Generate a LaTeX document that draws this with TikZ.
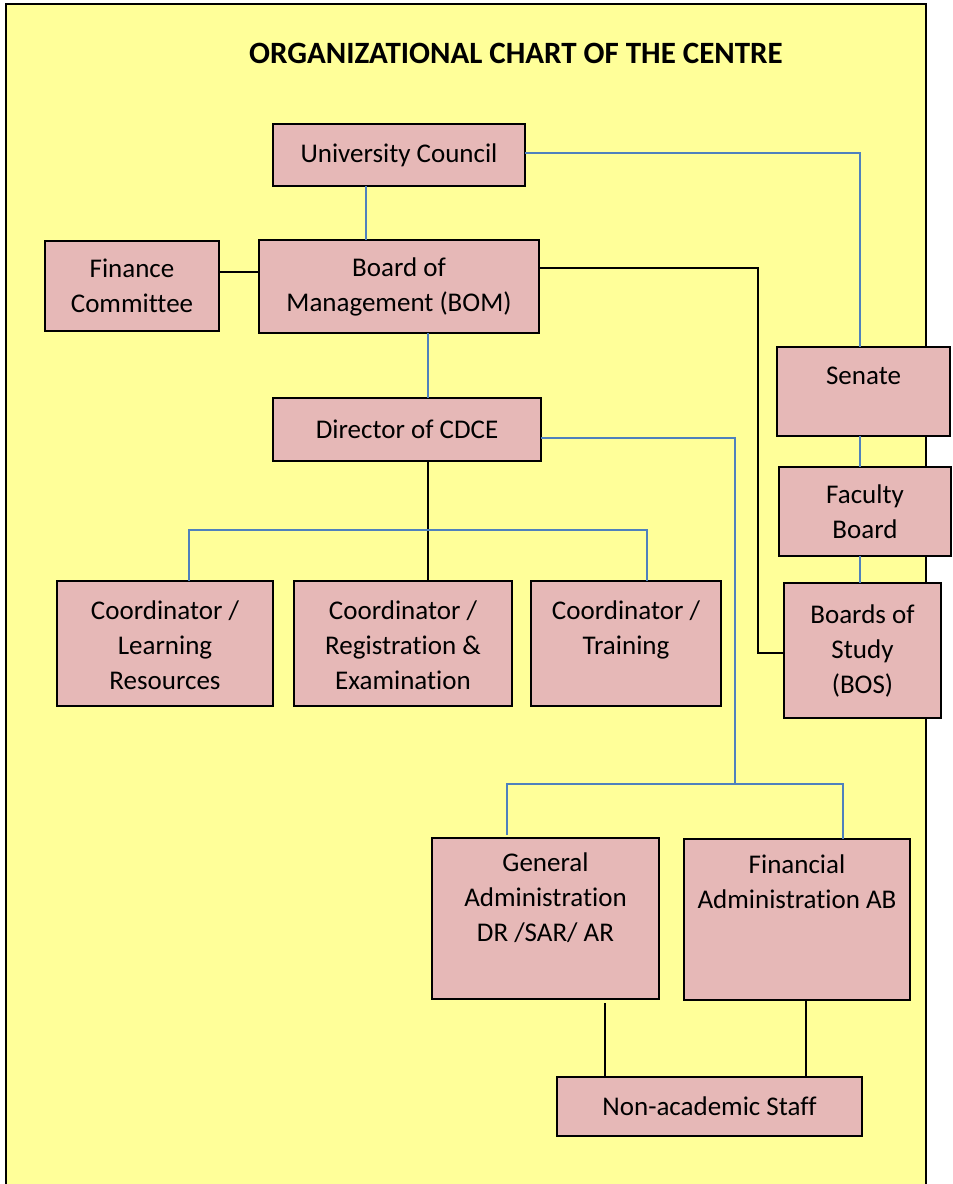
\documentclass[tikz,border=0pt]{standalone}
\usepackage{fontspec}
\setmainfont{Carlito}[Ligatures=NoCommon]
\definecolor{bgyellow}{RGB}{255,255,153}
\definecolor{boxpink}{RGB}{230,184,183}
\definecolor{linkblue}{RGB}{79,129,189}
\begin{document}
\begin{tikzpicture}[x=1pt,y=-1pt,
  box/.style={draw=black, line width=1.8pt, fill=boxpink, inner sep=0pt, outer sep=0pt, align=center, anchor=north west, font=\fontsize{27}{35}\selectfont},
  txt/.style={align=center, inner sep=0pt, anchor=north, font=\fontsize{27}{35}\selectfont},
  bl/.style={draw=linkblue, line width=1.6pt},
  bk/.style={draw=black, line width=1.6pt}]
\useasboundingbox (0,0) rectangle (953,1184);
\fill[white] (0,0) rectangle (953,1184);
\begin{scope}
\clip (0,0) rectangle (953,1184);
\draw[line width=1.8pt, fill=bgyellow] (6,4) rectangle (926,1195);
\end{scope}

\node[font=\bfseries\fontsize{31}{36}\selectfont, inner sep=0pt] (title) at (516,53) {ORGANIZATIONAL CHART OF THE CENTRE};

% boxes
\node[box, minimum width=252, minimum height=62] (uc) at (273,124) {University Council};
\node[box, minimum width=280, minimum height=93] (bom) at (259,240) {Board of\\Management (BOM)};
\node[box, minimum width=174, minimum height=90] (fc) at (45,241) {Finance\\Committee};
\node[box, minimum width=268, minimum height=63] (dir) at (273,398) {Director of CDCE};
\node[box, minimum width=216, minimum height=125] (c1) at (57,581) {};
\node[box, minimum width=218, minimum height=125] (c2) at (294,581) {};
\node[box, minimum width=190, minimum height=125] (c3) at (531,581) {};
\node[box, minimum width=173, minimum height=89] (senate) at (777,347) {};
\node[box, minimum width=172, minimum height=89] (fb) at (779,467) {Faculty\\Board};
\node[box, minimum width=157, minimum height=135] (bos) at (784,583) {Boards of\\Study\\(BOS)};
\node[box, minimum width=227, minimum height=161] (ga) at (432,838) {};
\node[box, minimum width=226, minimum height=161] (fa) at (684,839) {};
\node[box, minimum width=305, minimum height=59] (nas) at (557,1077) {Non-academic Staff};

% top-aligned texts
\node[txt] (c1t) at ([yshift=-20pt]c1.north) {Coordinator /\\Learning\\Resources};
\node[txt] (c2t) at ([yshift=-20pt]c2.north) {Coordinator /\\Registration \&\\Examination};
\node[txt] (c3t) at ([yshift=-20pt]c3.north) {Coordinator /\\Training};
\node[txt] (senatet) at ([yshift=-20pt]senate.north) {Senate};
\node[txt] (gat) at ([yshift=-15pt]ga.north) {General\\Administration\\DR /SAR/ AR};
\node[txt] (fat) at ([yshift=-16pt]fa.north) {Financial\\Administration AB};

% helper coordinates
\coordinate (sx) at (860,0);
\coordinate (dx) at (428,0);
\coordinate (cy) at (0,530);
\coordinate (bkc) at (758,268);
\coordinate (ax) at (735,784);
\coordinate (gx) at (605,0);
\coordinate (fx) at (806,0);
\coordinate (ux) at (366,0);

% connectors
\draw[bl] (uc.south -| ux) -- (bom.north -| ux);
\draw[bk] ([yshift=14pt]fc.east) -- ([yshift=14pt]fc.east -| bom.west);
\draw[bk] ([yshift=18.5pt]bom.east) -- (bkc) |- ([yshift=-2.5pt]bos.west);
\draw[bl] ([yshift=2pt]uc.east) -| (senate.north -| sx);
\draw[bl] (senate.south -| sx) -- (fb.north -| sx);
\draw[bl] (fb.south -| sx) -- (bos.north -| sx);
\draw[bl] (bom.south -| dx) -- (dir.north -| dx);
\draw[bk] (dir.south -| dx) -- (c2.north -| dx);
\draw[bl] ([xshift=24pt]c1.north) |- (dx |- cy) -| ([xshift=21pt]c3.north);
\draw[bl] ([yshift=-8.5pt]dir.east) -| (ax);
\draw[bl] ([xshift=-38.5pt,yshift=3pt]ga.north) |- (ax) -| ([xshift=46pt]fa.north);
\draw[bk] ([yshift=-4pt]ga.south -| gx) -- (nas.north -| gx);
\draw[bk] (fa.south -| fx) -- (nas.north -| fx);
\end{tikzpicture}
\end{document}
